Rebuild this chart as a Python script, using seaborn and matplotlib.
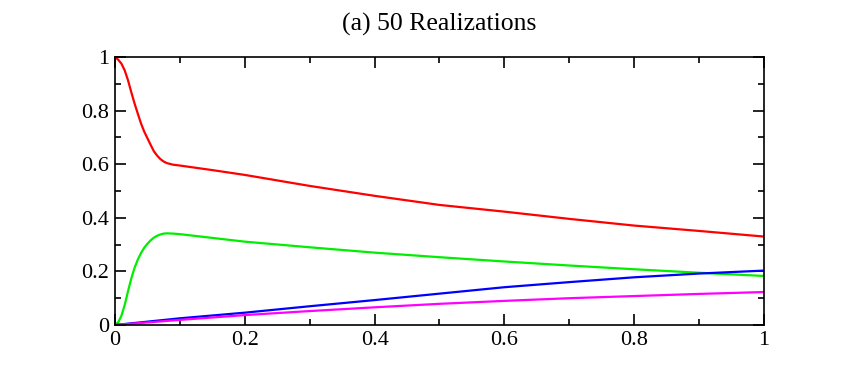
import pandas as pd
import matplotlib.pyplot as plt
import seaborn as sns
from matplotlib.ticker import MultipleLocator, FuncFormatter

# Data
x_fast = [0.0, 0.005, 0.01, 0.015, 0.02, 0.025, 0.03, 0.035, 0.04, 0.045, 0.05,
          0.055, 0.06, 0.065, 0.07, 0.075, 0.08, 0.09, 0.1, 0.15,
          0.2, 0.3, 0.4, 0.5, 0.6, 0.7, 0.8, 0.9, 1.0]
red = [1.0, 0.99, 0.975, 0.95, 0.914, 0.87, 0.828, 0.79, 0.753, 0.722, 0.697,
       0.672, 0.648, 0.632, 0.619, 0.61, 0.604, 0.598, 0.595, 0.578,
       0.56, 0.519, 0.482, 0.448, 0.423, 0.396, 0.371, 0.351, 0.33]
green = [0.0, 0.01, 0.035, 0.075, 0.125, 0.172, 0.212, 0.243, 0.268, 0.288, 0.303,
         0.316, 0.326, 0.333, 0.338, 0.341, 0.342, 0.341, 0.339, 0.325,
         0.311, 0.29, 0.270, 0.253, 0.237, 0.222, 0.208, 0.195, 0.183]

x_slow = [0.0, 0.1, 0.2, 0.3, 0.4, 0.5, 0.6, 0.7, 0.8, 0.9, 1.0]
blue = [0.0, 0.025, 0.046, 0.07, 0.093, 0.117, 0.141, 0.16, 0.178, 0.192, 0.203]
magenta = [0.0, 0.019, 0.037, 0.052, 0.066, 0.079, 0.09, 0.1, 0.108, 0.116, 0.123]

sns.set_style("ticks")
plt.rcParams['font.family'] = ['Liberation Serif', 'DejaVu Serif']
plt.rcParams['text.color'] = 'black'

fig = plt.figure(figsize=(8.41, 3.82), dpi=100)
ax = fig.add_axes([0.1367, 0.1492, 0.7717, 0.7016])

fast = pd.DataFrame({'x': x_fast, 'red': red, 'green': green})
slow = pd.DataFrame({'x': x_slow, 'blue': blue, 'magenta': magenta})

sns.lineplot(data=fast, x='x', y='red', color='#ff0000', lw=1.6, ax=ax)
sns.lineplot(data=fast, x='x', y='green', color='#00ee00', lw=1.6, ax=ax)
sns.lineplot(data=slow, x='x', y='blue', color='#0000ff', lw=1.6, ax=ax)
sns.lineplot(data=slow, x='x', y='magenta', color='#ff00ff', lw=1.6, ax=ax)

ax.set_xlim(0, 1)
ax.set_ylim(0, 1)
ax.set_xlabel('')
ax.set_ylabel('')
ax.set_title('(a) 50 Realizations', fontsize=18.5, pad=19, color='black')

fmt = FuncFormatter(lambda v, p: '0' if abs(v) < 1e-9 else ('1' if abs(v - 1) < 1e-9 else f'{v:.1f}'))
for axis in (ax.xaxis, ax.yaxis):
    axis.set_major_locator(MultipleLocator(0.2))
    axis.set_minor_locator(MultipleLocator(0.1))
    axis.set_major_formatter(fmt)

ax.tick_params(which='both', direction='in', top=True, right=True,
               width=1.2, labelsize=16, colors='black', labelcolor='black')
ax.tick_params(which='major', length=8, pad=4)
ax.tick_params(which='minor', length=4)
for s in ax.spines.values():
    s.set_linewidth(1.2)
    s.set_color('black')

plt.savefig('out.png', dpi=100)
